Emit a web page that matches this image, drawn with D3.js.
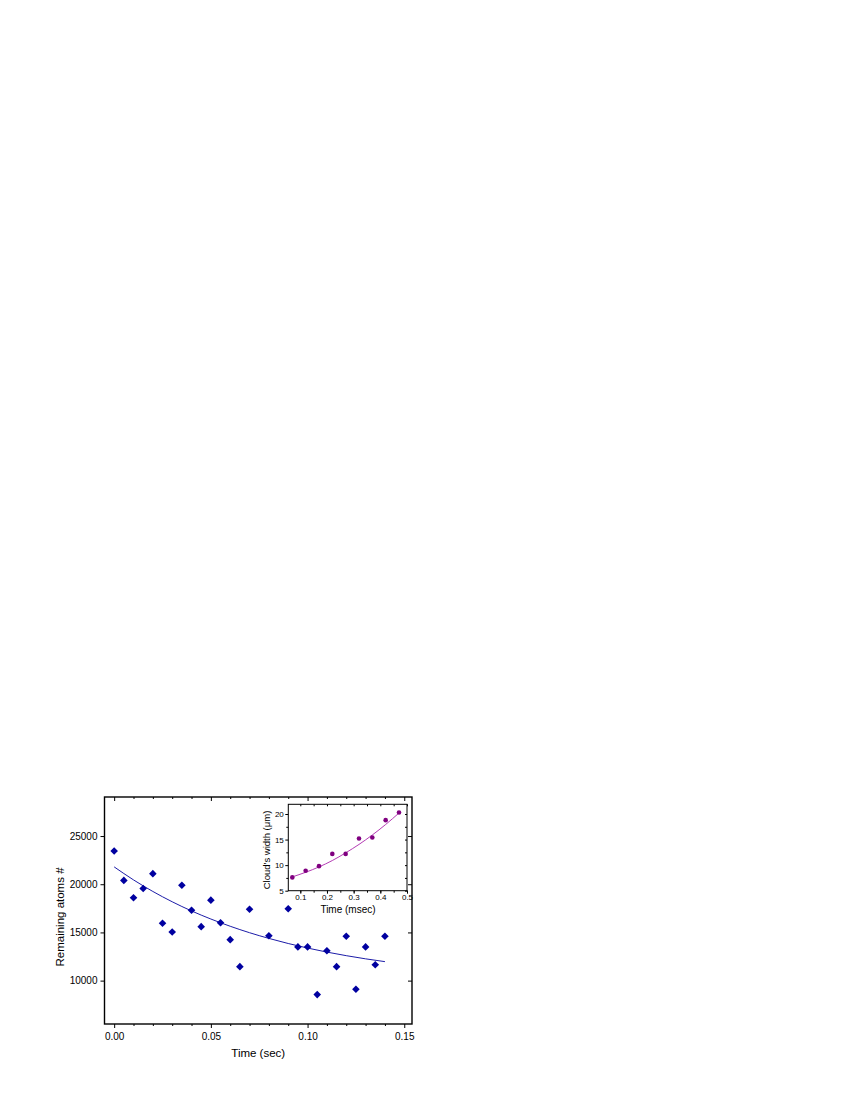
<!DOCTYPE html>
<html>
<head>
<meta charset="utf-8">
<script src="https://cdn.jsdelivr.net/npm/d3@7"></script>
<style>
  body { margin: 0; background: #fff; }
  svg { display: block; }
  text { font-family: "Liberation Sans", Arial, sans-serif; fill: #000; }
</style>
</head>
<body>
<svg id="chart" width="850" height="1100"></svg>
<script>
// main plot: remaining atoms vs time
const timeSec = [0, 0.005, 0.01, 0.015, 0.02, 0.025, 0.03, 0.035, 0.04, 0.045, 0.05, 0.055, 0.06, 0.065, 0.07,
  0.08, 0.09, 0.095, 0.10, 0.105, 0.11, 0.115, 0.12, 0.125, 0.13, 0.135, 0.14];
const atoms = [23450, 20400, 18600, 19550, 21100, 15950, 15050, 19900, 17300, 15600, 18350, 16000, 14250, 11450, 17400,
  14650, 17450, 13500, 13500, 8550, 13100, 11450, 14600, 9100, 13500, 11650, 14600];
const fitTimeSec = [0, 0.01, 0.02, 0.03, 0.04, 0.05, 0.06, 0.07, 0.08, 0.09, 0.10, 0.11, 0.12, 0.13, 0.14];
const fitAtoms = [21800, 20450, 19250, 18180, 17230, 16390, 15640, 14970, 14380, 13850, 13380, 12960, 12590, 12260, 11970];
const xTicks = [0, 0.05, 0.10, 0.15];
const xMinorTicks = [0.01, 0.02, 0.03, 0.04, 0.06, 0.07, 0.08, 0.09, 0.11, 0.12, 0.13, 0.14];
const yTicks = [10000, 15000, 20000, 25000];

// inset: cloud width vs time
const insetTime = [0.07, 0.12, 0.17, 0.22, 0.27, 0.32, 0.37, 0.42, 0.47];
const insetWidth = [7.6, 8.9, 9.8, 12.2, 12.2, 15.2, 15.4, 18.8, 20.3];
const insetFitTime = [0.07, 0.12, 0.17, 0.22, 0.27, 0.32, 0.37, 0.42, 0.47];
const insetFitWidth = [7.7, 8.6, 9.65, 10.9, 12.4, 14.05, 15.9, 17.95, 20.2];
const insetXTicks = [0.1, 0.2, 0.3, 0.4, 0.5];
const insetXMinor = [0.1, 0.15, 0.2, 0.25, 0.3, 0.35, 0.4, 0.45, 0.5];
const insetYTicks = [5, 10, 15, 20];
const insetYMinor = [7.5, 12.5, 17.5];

const svg = d3.select('#chart');

// ---- main plot ----
const x = d3.scaleLinear().domain([-0.005, 0.154]).range([104.5, 412]);
const y = d3.scaleLinear().domain([5500, 29050]).range([1024, 797]);

function styleAxis(g) {
  g.select('.domain').remove();
  g.selectAll('line').attr('stroke', '#000').attr('stroke-width', 1);
  return g;
}

// bottom (outward)
svg.append('g').attr('transform', `translate(0,${y.range()[0]})`)
  .call(d3.axisBottom(x).tickValues(xTicks).tickFormat(d3.format('.2f')).tickSize(4).tickPadding(5))
  .call(styleAxis)
  .selectAll('text').attr('font-size', 10);
svg.append('g').attr('transform', `translate(0,${y.range()[0]})`)
  .call(d3.axisBottom(x).tickValues(xMinorTicks).tickFormat('').tickSize(2))
  .call(styleAxis);
// top (inward)
svg.append('g').attr('transform', `translate(0,${y.range()[1]})`)
  .call(d3.axisTop(x).tickValues(xTicks).tickFormat('').tickSize(-4))
  .call(styleAxis);
svg.append('g').attr('transform', `translate(0,${y.range()[1]})`)
  .call(d3.axisTop(x).tickValues(xMinorTicks).tickFormat('').tickSize(-2))
  .call(styleAxis);
// left (outward)
svg.append('g').attr('transform', `translate(${x.range()[0]},0)`)
  .call(d3.axisLeft(y).tickValues(yTicks).tickFormat(d3.format('d')).tickSize(4).tickPadding(3))
  .call(styleAxis)
  .selectAll('text').attr('font-size', 10);
// right (inward)
svg.append('g').attr('transform', `translate(${x.range()[1]},0)`)
  .call(d3.axisRight(y).tickValues(yTicks).tickFormat('').tickSize(-4))
  .call(styleAxis);

svg.append('rect')
  .attr('x', x.range()[0]).attr('y', y.range()[1])
  .attr('width', x.range()[1] - x.range()[0]).attr('height', y.range()[0] - y.range()[1])
  .attr('fill', 'none').attr('stroke', '#000').attr('stroke-width', 1.4);

// fit curve
const fitLine = d3.line().x((d, i) => x(fitTimeSec[i])).y(d => y(d)).curve(d3.curveMonotoneX);
svg.append('path').datum(fitAtoms)
  .attr('d', fitLine).attr('fill', 'none').attr('stroke', '#1c1ca8').attr('stroke-width', 1);

// diamonds
svg.append('g').selectAll('path').data(atoms).join('path')
  .attr('transform', (d, i) => `translate(${x(timeSec[i])},${y(d)})`)
  .attr('d', 'M0,-3.8L3.8,0L0,3.8L-3.8,0Z')
  .attr('fill', '#0000a0');

svg.append('text').attr('x', (x.range()[0] + x.range()[1]) / 2).attr('y', 1057)
  .attr('text-anchor', 'middle').attr('font-size', 11.5).text('Time (sec)');
svg.append('text').attr('transform', 'translate(64,917) rotate(-90)')
  .attr('text-anchor', 'middle').attr('font-size', 11.5).text('Remaining atoms #');

// ---- inset ----
const ix = d3.scaleLinear().domain([0.055, 0.5]).range([288.3, 407]);
const iy = d3.scaleLinear().domain([5, 21.9]).range([890.7, 804.3]);

svg.append('g').attr('transform', `translate(0,${iy.range()[0]})`)
  .call(d3.axisBottom(ix).tickValues(insetXTicks).tickFormat(d3.format('.1f')).tickSize(3).tickPadding(1))
  .call(styleAxis)
  .selectAll('text').attr('font-size', 8);
svg.append('g').attr('transform', `translate(0,${iy.range()[0]})`)
  .call(d3.axisBottom(ix).tickValues(insetXMinor).tickFormat('').tickSize(2))
  .call(styleAxis);
svg.append('g').attr('transform', `translate(0,${iy.range()[1]})`)
  .call(d3.axisTop(ix).tickValues(insetXMinor).tickFormat('').tickSize(-2))
  .call(styleAxis);
svg.append('g').attr('transform', `translate(${ix.range()[0]},0)`)
  .call(d3.axisLeft(iy).tickValues(insetYTicks).tickFormat(d3.format('d')).tickSize(3).tickPadding(1.5))
  .call(styleAxis)
  .selectAll('text').attr('font-size', 8);
svg.append('g').attr('transform', `translate(${ix.range()[0]},0)`)
  .call(d3.axisLeft(iy).tickValues(insetYMinor).tickFormat('').tickSize(2))
  .call(styleAxis);
svg.append('g').attr('transform', `translate(${ix.range()[1]},0)`)
  .call(d3.axisRight(iy).tickValues(insetYTicks.concat(insetYMinor)).tickFormat('').tickSize(-2))
  .call(styleAxis);

svg.append('rect')
  .attr('x', ix.range()[0]).attr('y', iy.range()[1])
  .attr('width', ix.range()[1] - ix.range()[0]).attr('height', iy.range()[0] - iy.range()[1])
  .attr('fill', 'none').attr('stroke', '#000').attr('stroke-width', 1);

const insetLine = d3.line().x((d, i) => ix(insetFitTime[i])).y(d => iy(d)).curve(d3.curveMonotoneX);
svg.append('path').datum(insetFitWidth)
  .attr('d', insetLine).attr('fill', 'none').attr('stroke', '#b43cb4').attr('stroke-width', 1);

svg.append('g').selectAll('circle').data(insetWidth).join('circle')
  .attr('cx', (d, i) => ix(insetTime[i])).attr('cy', d => iy(d))
  .attr('r', 2.3).attr('fill', '#800080');

svg.append('text').attr('x', 348).attr('y', 913)
  .attr('text-anchor', 'middle').attr('font-size', 10).text('Time (msec)');
svg.append('text').attr('transform', 'translate(270,850) rotate(-90)')
  .attr('text-anchor', 'middle').attr('font-size', 9.5).text('Cloud\u2019s width (\u03bcm)');
</script>
</body>
</html>
